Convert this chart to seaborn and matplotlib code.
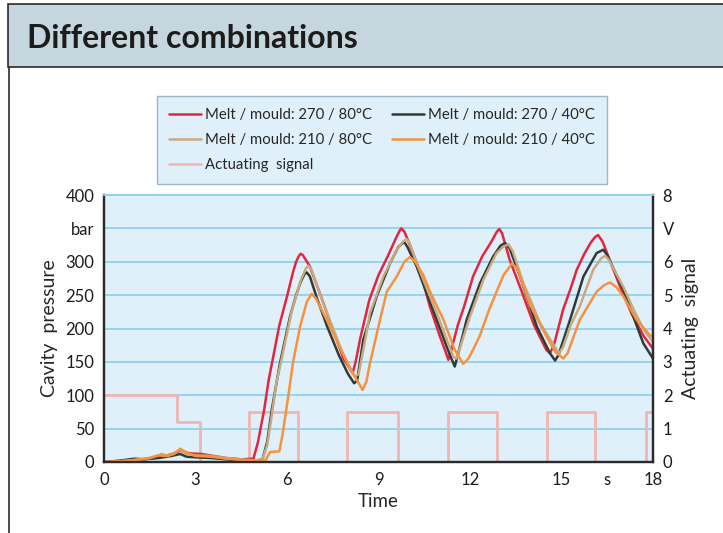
import numpy as np
import pandas as pd
import matplotlib
matplotlib.use('Agg')
import matplotlib.pyplot as plt
import seaborn as sns
from matplotlib.patches import Rectangle
from matplotlib.lines import Line2D

# (time s, cavity pressure bar)
melt_270_80 = [(0, 0), (0.5, 1), (1.0, 3), (1.5, 5), (2.0, 9), (2.3, 13), (2.5, 17), (2.8, 13), (3.2, 12),
               (3.6, 9), (4.0, 6), (4.5, 4), (4.9, 5), (5.05, 30), (5.25, 78), (5.4, 123), (5.55, 158),
               (5.75, 205), (6.0, 248), (6.2, 285), (6.3, 300), (6.38, 308), (6.45, 312), (6.52, 310),
               (6.6, 304), (6.75, 293), (7.1, 250), (7.45, 205), (7.85, 155), (8.15, 133), (8.25, 150),
               (8.4, 185), (8.7, 243), (9.0, 280), (9.3, 308), (9.6, 338), (9.7, 347), (9.75, 350),
               (9.85, 345), (10.09, 318), (10.4, 280), (10.69, 232), (11.0, 190), (11.24, 160), (11.29, 153),
               (11.4, 170), (11.6, 205), (11.8, 232), (12.1, 278), (12.4, 308), (12.7, 330), (12.88, 345),
               (12.96, 349), (13.05, 343), (13.3, 303), (13.7, 255), (14.1, 205), (14.5, 168), (14.62, 163),
               (14.75, 175), (15.05, 228), (15.3, 260), (15.5, 288), (15.75, 312), (15.95, 328), (16.1, 337),
               (16.2, 340), (16.35, 330), (16.5, 312), (16.9, 265), (17.3, 222), (17.7, 188), (18.0, 170)]

melt_270_40 = [(0, 0), (0.5, 2), (1.0, 5), (1.3, 4), (1.8, 6), (2.2, 9), (2.5, 12), (2.7, 8), (3.0, 7),
               (3.5, 6), (4.0, 4), (4.5, 2), (5.0, 1), (5.2, 5), (5.35, 30), (5.5, 78), (5.77, 148),
               (6.1, 218), (6.3, 250), (6.45, 270), (6.58, 282), (6.65, 284), (6.75, 278), (6.97, 247),
               (7.3, 205), (7.7, 160), (8.0, 132), (8.2, 118), (8.3, 122), (8.5, 183), (8.94, 248),
               (9.38, 298), (9.65, 322), (9.84, 330), (9.95, 322), (10.25, 293), (10.91, 213), (11.3, 165),
               (11.5, 143), (11.6, 160), (11.89, 213), (12.33, 268), (12.76, 308), (13.0, 324), (13.15, 328),
               (13.3, 320), (13.64, 278), (14.19, 203), (14.62, 163), (14.79, 152), (14.9, 160), (15.28, 213),
               (15.72, 278), (16.15, 313), (16.37, 318), (16.5, 310), (17.03, 258), (17.68, 178), (18.0, 155)]

melt_210_80 = [(0, 0), (0.5, 1), (1.0, 3), (1.5, 6), (1.9, 12), (2.1, 9), (2.5, 18), (2.7, 12), (3.0, 10),
               (3.5, 9), (4.0, 6), (4.5, 4), (5.0, 2), (5.2, 5), (5.35, 25), (5.5, 70), (5.65, 118),
               (5.85, 160), (6.15, 225), (6.45, 272), (6.62, 290), (6.7, 294), (6.8, 289), (7.19, 238),
               (7.74, 173), (8.05, 140), (8.23, 128), (8.35, 132), (8.55, 180), (8.72, 223), (9.16, 278),
               (9.6, 318), (9.8, 330), (9.92, 334), (10.02, 328), (10.25, 298), (10.91, 223), (11.45, 158),
               (11.56, 155), (11.7, 175), (12.0, 218), (12.44, 273), (12.87, 313), (13.1, 323), (13.26, 326),
               (13.4, 316), (13.75, 268), (14.3, 208), (14.84, 168), (14.92, 163), (15.05, 172), (15.3, 205),
               (15.6, 233), (16.04, 288), (16.3, 305), (16.43, 309), (16.55, 303), (17.03, 262), (17.4, 225),
               (17.7, 198), (18.0, 180)]

melt_210_40 = [(0, 0), (0.5, 1), (1.0, 3), (1.5, 6), (1.8, 10), (2.0, 9), (2.3, 12), (2.5, 20), (2.7, 14),
               (3.0, 9), (3.5, 8), (4.0, 5), (4.5, 3), (5.0, 2), (5.3, 3), (5.45, 15), (5.75, 16), (5.85, 40),
               (6.04, 98), (6.2, 150), (6.43, 203), (6.65, 240), (6.81, 252), (6.95, 245), (7.41, 203),
               (7.8, 165), (8.2, 130), (8.48, 108), (8.6, 120), (8.72, 148), (9.05, 213), (9.27, 255),
               (9.6, 278), (9.85, 300), (10.03, 307), (10.2, 300), (10.47, 280), (10.69, 255), (11.13, 213),
               (11.5, 168), (11.78, 147), (11.95, 155), (12.1, 168), (12.33, 190), (12.6, 225), (12.87, 255),
               (13.1, 280), (13.37, 297), (13.55, 290), (13.97, 235), (14.51, 188), (14.8, 165), (15.06, 155),
               (15.2, 163), (15.6, 213), (16.15, 255), (16.4, 265), (16.59, 269), (16.8, 262), (17.03, 248),
               (17.46, 213), (17.9, 190), (18.0, 188)]

# actuating signal (V), step changes
signal_t = [0, 2.38, 3.15, 4.75, 6.37, 7.98, 9.63, 11.27, 12.9, 14.51, 16.1, 17.76, 18.0]
signal_v = [2.0, 1.2, 0, 1.5, 0, 1.5, 0, 1.5, 0, 1.5, 0, 1.5, 1.5]

series_names = ['Melt / mould: 270 / 80°C', 'Melt / mould: 270 / 40°C',
                'Melt / mould: 210 / 80°C', 'Melt / mould: 210 / 40°C']
series_colors = ['#e3263f', '#2f3b36', '#c9a97e', '#f5923f']
signal_color = '#f0b5b2'

x_ticks = [0, 3, 6, 9, 12, 15, 18]
y_ticks = [0, 50, 100, 150, 200, 250, 300, 350, 400]
y_labels = ['0', '50', '100', '150', '200', '250', '300', 'bar', '400']
v_ticks = [0, 1, 2, 3, 4, 5, 6, 7, 8]
v_labels = ['0', '1', '2', '3', '4', '5', '6', 'V', '8']

rows = []
for name, pts in zip(series_names, [melt_270_80, melt_270_40, melt_210_80, melt_210_40]):
    for t, p in pts:
        rows.append({'series': name, 'time': t, 'pressure': p})
df = pd.DataFrame(rows)
sig = pd.DataFrame({'time': signal_t, 'volt': signal_v})

sns.set_style('white')
plt.rcParams['font.family'] = ['Lato', 'DejaVu Sans']

bg = '#dff0fa'
grid_c = '#8fd3f2'
dark = '#2b2b2b'

fig = plt.figure(figsize=(7.23, 5.33), dpi=100)

# header band and page border
fig.patches.append(Rectangle((0.011, 1 - 67 / 533), 1.0, 63 / 533, transform=fig.transFigure,
                             facecolor='#c6d6df', edgecolor=dark, linewidth=1.2))
fig.lines.append(Line2D([0.013, 0.013], [0, 1 - 67 / 533], transform=fig.transFigure, color=dark, linewidth=1.2))
fig.text(27 / 723, 1 - 38 / 533, 'Different combinations', fontsize=23, fontweight='bold',
         color='#1c1c1c', va='center', ha='left')

ax = fig.add_axes([104 / 723, 1 - 462 / 533, 549 / 723, 267 / 533])
ax2 = ax.twinx()
ax.set_zorder(ax2.get_zorder() + 1)
ax.patch.set_visible(False)
ax2.patch.set_visible(True)
ax2.set_facecolor(bg)

# actuating signal on the V axis (drawn below the pressure curves)
sns.lineplot(data=sig, x='time', y='volt', ax=ax2, color=signal_color, linewidth=2,
             drawstyle='steps-post', label='Actuating  signal', legend=False, estimator=None)
ax2.set_ylim(0, 8)
ax2.set_yticks(v_ticks, labels=v_labels)
ax2.grid(True, color=grid_c, linewidth=1.3)
ax2.set_axisbelow(True)
ax2.set_ylabel('Actuating  signal', fontsize=14, rotation=90, labelpad=6)

sns.lineplot(data=df, x='time', y='pressure', hue='series', palette=series_colors,
             hue_order=series_names, sort=False, estimator=None, linewidth=1.8, ax=ax, legend=True)
ax.set_xlim(0, 18)
ax.set_ylim(0, 400)
ax.set_xticks(x_ticks, labels=[str(v) for v in x_ticks])
ax.set_xticks([16.5], labels=['s'], minor=True)
ax.set_yticks(y_ticks, labels=y_labels)
ax.grid(False)
ax.set_xlabel('Time', fontsize=13.5, labelpad=4)
ax.set_ylabel('Cavity  pressure', fontsize=14, labelpad=5)

for a in (ax, ax2):
    a.tick_params(axis='both', which='both', length=0, labelsize=12, pad=7, colors='#1c1c1c')
    for side in ('left', 'bottom', 'right'):
        a.spines[side].set_color(dark)
        a.spines[side].set_linewidth(1.6)
    a.spines['top'].set_color(grid_c)
    a.spines['top'].set_linewidth(1.3)

# legend: rebuilt so the layout matches (two columns, signal last in the first column)
h1, l1 = ax.get_legend_handles_labels()
h2, l2 = ax2.get_legend_handles_labels()
ax.get_legend().remove()
handles = [h1[0], h1[2], h2[0], h1[1], h1[3]]
labels = [l1[0], l1[2], l2[0], l1[1], l1[3]]
leg = fig.legend(handles, labels, loc='upper left', ncol=2,
                 bbox_to_anchor=(157 / 723, 1 - 96 / 533),
                 fontsize=10.7, frameon=True, fancybox=False, framealpha=1, facecolor=bg,
                 edgecolor='#9fb6c6', handlelength=2.15, handletextpad=0.25, labelspacing=0.75,
                 borderpad=0.8, columnspacing=1.4, borderaxespad=0)
for line in leg.get_lines():
    line.set_linewidth(1.8)

fig.savefig('out.png', dpi=100)
